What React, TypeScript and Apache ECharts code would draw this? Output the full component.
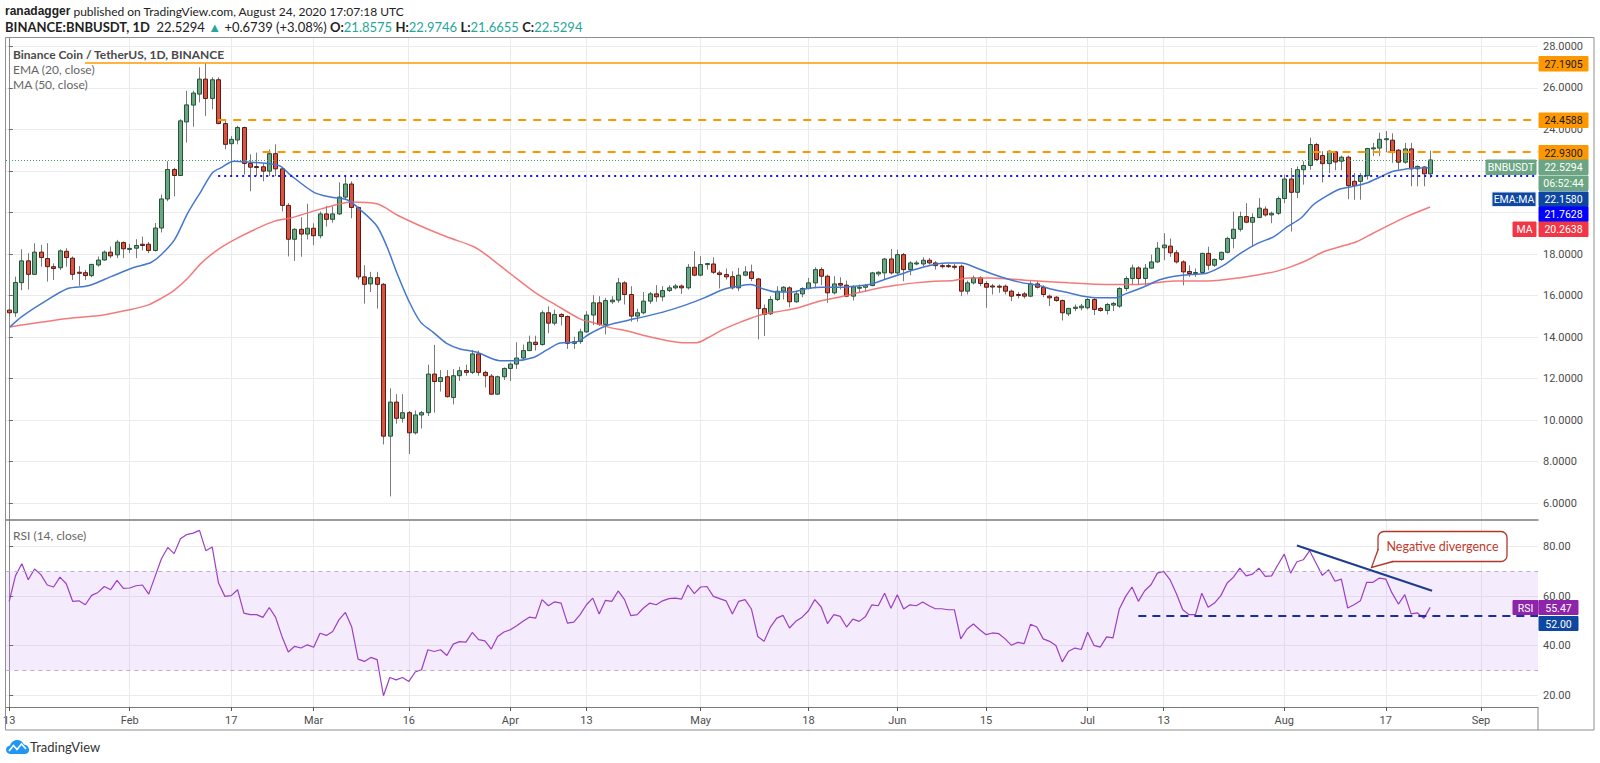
import React, { useEffect, useRef } from 'react';
import * as echarts from 'echarts';

// ---- data ----
// daily candles from 2020-01-13 (index 0) to 2020-08-24 (index 224): [open, high, low, close]
const candleOHLC: number[][] = [
  [15.30, 15.38, 14.97, 15.17], [15.17, 16.91, 14.97, 16.63], [16.62, 18.23, 16.26, 17.67], [17.67, 18.04, 16.29, 17.02],
  [17.02, 18.52, 17.00, 18.09], [18.09, 18.44, 17.39, 17.83], [17.78, 18.52, 16.67, 17.39], [17.39, 17.55, 16.75, 17.30],
  [17.34, 18.23, 17.23, 18.15], [18.13, 18.28, 17.39, 17.83], [17.80, 17.88, 16.75, 17.02], [17.12, 17.42, 16.47, 17.09],
  [17.10, 17.23, 16.75, 16.96], [16.96, 17.52, 16.88, 17.50], [17.47, 17.88, 17.39, 17.71], [17.71, 18.17, 17.68, 18.09],
  [18.09, 18.36, 17.80, 17.91], [17.96, 18.68, 17.80, 18.57], [18.55, 18.60, 17.80, 18.25], [18.25, 18.49, 18.04, 18.27],
  [18.28, 18.71, 17.80, 18.41], [18.47, 18.84, 18.17, 18.41], [18.47, 18.58, 18.04, 18.17], [18.17, 19.49, 18.12, 19.25],
  [19.25, 20.86, 19.04, 20.65], [20.65, 22.47, 20.54, 22.07], [22.07, 22.15, 20.78, 21.78], [21.78, 24.49, 21.75, 24.41],
  [24.36, 25.86, 23.36, 25.18], [25.17, 25.86, 24.13, 25.75], [25.70, 26.99, 25.30, 26.42], [26.42, 27.19, 24.65, 25.49],
  [25.49, 26.51, 24.97, 26.39], [26.39, 26.51, 24.25, 24.28], [24.28, 24.49, 23.04, 23.28], [23.31, 23.68, 21.75, 23.52],
  [23.49, 24.17, 23.28, 24.09], [24.09, 24.13, 21.83, 22.36], [22.36, 22.80, 21.02, 22.18], [22.21, 22.88, 21.75, 22.17],
  [22.20, 22.36, 21.50, 21.99], [21.99, 23.04, 21.75, 22.83], [22.83, 23.28, 21.75, 22.10], [22.10, 22.15, 20.05, 20.34],
  [20.34, 20.45, 17.88, 18.71], [18.71, 19.24, 17.67, 19.19], [19.19, 19.77, 17.87, 18.96], [18.96, 20.42, 18.70, 19.24],
  [19.24, 19.48, 18.43, 18.88], [18.88, 20.05, 18.75, 19.93], [19.93, 20.32, 19.32, 19.67], [19.67, 20.29, 19.51, 19.93],
  [19.93, 21.45, 19.88, 20.74], [20.74, 21.74, 20.61, 21.37], [21.37, 21.50, 19.72, 20.24], [20.24, 20.29, 16.77, 16.90],
  [16.90, 17.46, 15.61, 16.54], [16.56, 17.14, 16.17, 16.86], [16.86, 17.14, 15.37, 16.54], [16.54, 16.61, 8.83, 9.23],
  [9.23, 11.53, 6.33, 10.87], [10.87, 11.25, 9.83, 10.09], [10.09, 11.25, 9.88, 10.36], [10.36, 10.44, 8.37, 9.39],
  [9.39, 10.47, 9.31, 10.25], [10.25, 10.44, 9.60, 10.36], [10.36, 12.67, 10.20, 12.22], [12.22, 13.62, 10.36, 11.86],
  [11.86, 12.41, 11.38, 12.05], [12.09, 12.41, 11.09, 11.13], [11.09, 12.46, 10.76, 12.14], [12.14, 12.57, 11.89, 12.38],
  [12.39, 12.67, 12.14, 12.30], [12.30, 13.38, 12.22, 13.19], [13.19, 13.35, 12.14, 12.30], [12.30, 12.38, 11.57, 12.14],
  [12.12, 12.22, 11.22, 11.25], [11.25, 12.14, 11.22, 12.09], [12.09, 12.54, 11.93, 12.49], [12.49, 12.78, 11.89, 12.70],
  [12.70, 13.75, 12.46, 12.99], [12.99, 13.64, 12.94, 13.35], [13.35, 14.07, 13.32, 13.75], [13.75, 14.07, 13.35, 13.64],
  [13.64, 15.28, 13.59, 15.17], [15.17, 15.48, 14.19, 14.67], [14.67, 15.32, 14.56, 15.09], [15.09, 15.15, 14.56, 14.99],
  [14.99, 15.04, 13.43, 13.70], [13.70, 14.02, 13.43, 13.78], [13.78, 14.40, 13.67, 14.25], [14.25, 15.25, 14.20, 15.06],
  [15.06, 16.02, 14.58, 15.65], [15.65, 15.97, 14.53, 14.61], [14.61, 15.89, 14.13, 15.76], [15.70, 15.97, 15.60, 15.78],
  [15.78, 16.85, 15.65, 16.61], [16.61, 16.69, 15.57, 16.05], [16.05, 16.45, 14.74, 15.01], [15.01, 15.36, 14.74, 15.17],
  [15.17, 16.17, 15.09, 15.73], [15.73, 16.17, 15.60, 16.08], [16.08, 16.50, 15.70, 15.94], [15.94, 16.45, 15.73, 16.24],
  [16.24, 16.50, 16.17, 16.37], [16.37, 16.56, 16.29, 16.46], [16.46, 16.53, 16.08, 16.37], [16.37, 17.52, 16.29, 17.36],
  [17.36, 18.13, 16.93, 16.98], [16.98, 17.89, 16.93, 17.49], [17.49, 17.57, 17.25, 17.54], [17.52, 17.84, 17.04, 17.12],
  [17.09, 17.20, 16.34, 17.01], [17.01, 17.30, 16.77, 16.90], [16.91, 17.17, 16.29, 16.37], [16.37, 17.33, 16.21, 16.98],
  [16.98, 17.41, 16.93, 17.14], [17.14, 17.49, 16.69, 16.82], [16.80, 16.85, 13.89, 15.37], [15.37, 15.57, 14.05, 15.09],
  [15.12, 15.97, 15.06, 15.81], [15.81, 16.45, 15.73, 16.21], [16.21, 16.45, 15.81, 16.40], [16.37, 16.45, 15.44, 15.70],
  [15.70, 16.24, 15.65, 16.08], [16.08, 16.40, 15.92, 16.34], [16.34, 16.85, 16.29, 16.61], [16.61, 17.36, 16.34, 17.25],
  [17.25, 17.36, 16.50, 16.93], [16.93, 17.01, 15.65, 16.13], [16.13, 16.93, 16.05, 16.56], [16.58, 16.88, 16.29, 16.50],
  [16.50, 16.72, 15.92, 15.97], [15.97, 16.50, 15.76, 16.42], [16.37, 16.53, 16.13, 16.40], [16.40, 16.56, 16.17, 16.48],
  [16.48, 17.14, 16.45, 17.09], [17.04, 17.17, 16.93, 17.12], [17.09, 17.81, 16.77, 17.76], [17.76, 18.24, 17.01, 17.09],
  [17.09, 18.21, 17.01, 17.97], [17.97, 18.05, 16.69, 17.25], [17.25, 17.65, 16.98, 17.57], [17.52, 17.68, 17.46, 17.57],
  [17.52, 17.84, 17.41, 17.70], [17.70, 17.81, 17.49, 17.57], [17.57, 17.65, 17.25, 17.44], [17.44, 17.52, 17.30, 17.41],
  [17.44, 17.52, 17.33, 17.39], [17.41, 17.52, 17.25, 17.36], [17.41, 17.49, 15.97, 16.21], [16.21, 16.72, 16.05, 16.61],
  [16.61, 16.96, 16.53, 16.85], [16.85, 16.93, 16.45, 16.58], [16.58, 16.69, 15.41, 16.40], [16.46, 16.56, 16.05, 16.43],
  [16.45, 16.53, 16.13, 16.41], [16.45, 16.53, 16.05, 16.21], [16.21, 16.29, 15.73, 15.97], [16.05, 16.17, 15.86, 16.00],
  [16.08, 16.17, 15.86, 15.97], [15.97, 16.69, 15.92, 16.56], [16.56, 16.69, 16.34, 16.40], [16.40, 16.50, 15.92, 16.05],
  [15.97, 16.05, 15.49, 15.89], [15.92, 15.97, 15.70, 15.76], [15.76, 15.81, 14.80, 15.17], [15.12, 15.41, 15.01, 15.38],
  [15.38, 15.57, 15.25, 15.44], [15.41, 15.60, 15.28, 15.49], [15.41, 15.89, 15.33, 15.81], [15.81, 15.89, 15.06, 15.33],
  [15.38, 15.44, 15.22, 15.28], [15.28, 15.65, 15.09, 15.57], [15.54, 15.70, 15.25, 15.62], [15.49, 16.40, 15.41, 16.34],
  [16.34, 16.93, 16.21, 16.82], [16.82, 17.49, 16.53, 17.33], [17.33, 17.41, 16.50, 16.82], [16.82, 17.52, 16.50, 17.32],
  [17.32, 17.97, 17.30, 17.62], [17.62, 18.58, 17.57, 18.28], [18.30, 19.00, 17.70, 18.43], [18.38, 18.75, 17.86, 18.06],
  [18.06, 18.19, 17.54, 17.62], [17.62, 17.70, 16.49, 17.14], [17.16, 17.46, 16.90, 17.06], [17.10, 17.30, 16.90, 17.11],
  [17.11, 18.06, 17.06, 18.03], [18.03, 18.35, 17.22, 17.46], [17.46, 17.79, 17.38, 17.74], [17.74, 18.11, 17.67, 18.08],
  [18.08, 18.83, 18.03, 18.75], [18.75, 20.04, 18.27, 19.19], [19.19, 20.04, 19.08, 19.80], [19.80, 20.45, 19.48, 19.53],
  [19.53, 19.96, 18.35, 19.76], [19.76, 20.69, 19.72, 20.21], [20.16, 20.29, 19.80, 19.88], [19.88, 20.04, 19.48, 19.96],
  [19.96, 20.77, 19.88, 20.67], [20.67, 21.82, 20.45, 21.61], [21.61, 22.14, 19.08, 20.97], [20.97, 22.22, 20.69, 22.06],
  [22.06, 22.47, 21.34, 22.26], [22.26, 23.60, 22.06, 23.27], [23.27, 23.35, 22.47, 22.55], [22.74, 22.95, 21.45, 22.35],
  [22.35, 23.00, 21.90, 22.95], [22.92, 22.95, 22.03, 22.43], [22.47, 22.74, 22.03, 22.66], [22.66, 22.74, 20.64, 21.29],
  [21.50, 21.90, 20.61, 21.29], [21.50, 21.90, 20.61, 21.77], [21.77, 23.11, 21.58, 23.08], [23.08, 23.35, 22.71, 23.11],
  [23.10, 23.84, 22.71, 23.52], [23.52, 23.92, 22.90, 23.55], [23.48, 23.81, 22.39, 22.95], [23.00, 23.06, 22.06, 22.42],
  [22.42, 23.35, 22.35, 23.06], [23.06, 23.35, 21.26, 22.10], [22.10, 22.26, 21.26, 22.22], [22.19, 22.22, 21.26, 21.86],
  [21.8575, 22.9746, 21.6655, 22.5294],
];

// EMA(20) and MA(50) read at points along the lines: [dayIndex, value]
const emaPoints: number[][] = [
  [0.2, 14.49], [2, 14.97], [5.2, 15.62], [9.3, 16.34], [12.5, 16.47], [16.1, 16.91], [19.8, 17.36], [22.4, 17.59],
  [24, 17.96], [26.1, 18.68], [28.2, 19.97], [30.3, 21.02], [32.1, 21.91], [33.4, 22.15], [35.5, 22.47], [38.1, 22.42],
  [40.8, 22.36], [42.8, 22.23], [44.4, 21.8], [48.1, 20.97], [50.7, 20.74], [53.3, 20.61], [55.4, 20.13], [58, 19.35],
  [59.6, 18.35], [61.2, 17.06], [63, 15.77], [64.9, 14.72], [66.9, 14.23], [69, 13.70], [71.1, 13.43], [73.8, 13.27],
  [75.9, 12.99], [77.4, 12.86], [79.5, 12.86], [82.7, 13.02], [84.8, 13.38], [86.9, 13.72], [89, 13.75], [90, 13.83],
  [91.5, 14.15], [94.5, 14.58], [97.5, 14.8], [100.5, 15.01], [103.6, 15.25], [106.6, 15.54], [109.6, 15.89],
  [112.6, 16.29], [115, 16.45], [116.9, 16.53], [118.7, 16.34], [121, 16.17], [123.5, 16.17], [125.9, 16.34],
  [128.3, 16.4], [130.8, 16.4], [133.2, 16.45], [135.6, 16.53], [138, 16.77], [140.4, 17.01], [142.8, 17.25],
  [145.3, 17.46], [147.7, 17.57], [150.1, 17.57], [152.5, 17.33], [155, 17.04], [157.3, 16.81], [159.8, 16.61],
  [162.2, 16.49], [164.6, 16.29], [167, 16.13], [169.4, 15.97], [171.8, 15.89], [174.3, 15.89], [176, 16.08],
  [179.1, 16.45], [181.5, 16.77], [183.7, 16.93], [186.3, 17.01], [188.9, 17.09], [191.5, 17.46], [194.1, 18.03],
  [196.8, 18.51], [199.4, 18.84], [201.5, 19.32], [203.6, 19.72], [205.6, 20.37], [207.7, 20.8], [209.8, 21.13],
  [211.9, 21.26], [214, 21.42], [216.1, 21.71], [218.2, 21.98], [220.3, 22.1], [221.9, 22.14], [224, 22.158],
];
const maPoints: number[][] = [
  [0.2, 14.49], [9.3, 14.89], [14.6, 15.05], [18.8, 15.30], [21.9, 15.54], [24, 15.86], [26.1, 16.26], [28.2, 16.83],
  [30.3, 17.55], [32.9, 18.2], [35.5, 18.68], [38.7, 19.17], [41.8, 19.57], [44.4, 19.73], [46, 19.88], [49.1, 20.16],
  [52.3, 20.42], [53.9, 20.5], [58, 20.42], [61.2, 19.88], [64.9, 19.35], [69, 18.83], [73.3, 18.35], [75.3, 17.95],
  [79, 17.06], [83.2, 16.09], [86.3, 15.53], [90, 14.88], [92, 14.7], [94.5, 14.48], [97.5, 14.29], [100.5, 14.05],
  [103.6, 13.84], [106.6, 13.73], [108.4, 13.73], [110.2, 13.97], [112.6, 14.37], [115.7, 14.77], [118.7, 15.09],
  [121.7, 15.25], [124.7, 15.44], [127.7, 15.73], [130.8, 15.92], [133.8, 16.13], [136.8, 16.34], [139.8, 16.49],
  [142.8, 16.61], [145.9, 16.69], [148.9, 16.72], [151.3, 16.85], [154.9, 16.85], [161, 16.72], [167, 16.61],
  [173, 16.53], [176.7, 16.53], [179.1, 16.56], [183.7, 16.7], [188.9, 16.7], [194.1, 16.86], [199.4, 17.14],
  [202, 17.38], [204.6, 17.7], [207.2, 18.11], [209.8, 18.35], [212.4, 18.59], [215, 19.0], [217.6, 19.4],
  [220.3, 19.8], [224, 20.26],
];

// RSI(14) per day, index 0 = 2020-01-13
const rsiValues: number[] = [
  57.9, 68.3, 73.1, 66.6, 71.0, 68.7, 64.5, 63.7, 67.7, 65.0,
  57.9, 58.1, 56.5, 60.3, 61.5, 63.9, 62.6, 66.4, 63.1, 63.3,
  64.2, 64.5, 60.8, 68.0, 75.1, 79.7, 77.2, 83.2, 84.9, 85.5,
  86.6, 78.4, 79.9, 65.3, 59.9, 60.2, 62.6, 53.1, 52.5, 52.5,
  51.4, 55.4, 51.4, 43.7, 37.4, 39.7, 39.0, 40.3, 39.3, 45.0,
  44.1, 45.7, 50.5, 53.4, 47.5, 34.5, 33.6, 35.2, 34.3, 19.7,
  27.1, 26.1, 27.1, 25.5, 29.3, 30.2, 38.3, 37.6, 38.3, 36.0,
  40.6, 41.6, 41.4, 45.3, 42.4, 41.9, 38.6, 43.7,
  45.5, 46.4, 48.0, 49.8, 51.5, 51.1, 58.6, 56.1, 57.7, 57.2,
  49.1, 49.5, 52.5, 56.5, 59.2, 52.8, 58.3, 57.9, 62.1, 58.6,
  52.1, 52.5, 55.2, 57.2, 56.5, 58.1, 59.0, 59.2, 58.8, 64.5,
  61.0, 63.7, 63.9, 59.9, 59.0, 58.1, 52.8, 57.9, 58.6, 54.8,
  43.7, 41.7, 47.5, 51.1, 52.2, 47.1, 49.8, 51.5, 54.1, 58.6,
  55.6, 48.9, 52.5, 51.8, 47.5, 50.7, 49.8, 51.8, 56.5, 56.1,
  61.2, 55.1, 60.6, 54.8, 56.5, 56.1, 57.6, 56.1, 54.9, 54.9,
  54.5, 54.5, 42.7, 46.7, 48.7, 46.4, 44.4, 45.1, 44.8, 42.7,
  40.1, 41.3, 40.8, 48.6, 47.5, 42.7, 41.7, 40.0, 33.4, 37.7,
  39.0, 38.4, 45.4, 40.1, 39.4, 43.5, 43.1, 54.8, 59.9, 63.7,
  57.9, 62.2, 64.6, 69.3, 70.0, 66.6, 61.0, 54.5, 52.5, 52.5,
  61.2, 55.5, 57.2, 60.2, 65.3, 67.7, 71.3, 68.2, 68.9, 71.3,
  68.0, 68.2, 72.7, 77.0, 69.3, 73.9, 74.7, 78.4, 73.4, 68.4,
  70.7, 66.0, 66.9, 55.2, 56.5, 58.1, 65.6, 65.6, 67.3, 66.9,
  61.2, 56.8, 60.6, 52.8, 53.2, 51.0, 55.47,
];

// time-axis ticks (day index -> label)
const axisDays = [0, 19, 35, 48, 63, 79, 91, 109, 126, 140, 154, 170, 182, 201, 217, 232];
const axisNames = ['13', 'Feb', '17', 'Mar', '16', 'Apr', '13', 'May', '18', 'Jun', '15', 'Jul', '13', 'Aug', '17', 'Sep'];
const priceTicks = [6, 8, 10, 12, 14, 16, 18, 20, 22, 24, 26, 28];
const rsiTicks = [20, 40, 60, 80];

// drawn levels: [startDay, price]
const levelHigh = [12, 27.1905];
const levelDash1 = [33, 24.4588];
const levelDash2 = [40, 22.93];
const levelSupport = [33, 21.7628];
const lastPrice = 22.5294;
const rsiSupport = [178, 52];
const divergence = [[203, 80.5], [224.3, 62.2]];

const FONT = 'Lato, "Noto Sans", sans-serif';
const AXFONT = 'Roboto, "Noto Sans", sans-serif';

echarts.graphic.registerShape(
  'tvlogo',
  echarts.graphic.extendPath(
    'M4.5 14C2 14 0 12.2 0 9.8C0 7.6 1.7 5.8 3.9 5.6C4.6 2.4 7.3 0 10.6 0C13.6 0 16.1 1.9 17 4.6C19.8 4.9 22 7.2 22 10C22 12.2 20.2 14 18 14Z',
    {}
  )
);

function box(x: number, y: number, w: number, h: number, fill: string, text: string, color: string, stroke?: string) {
  return {
    type: 'group',
    z: 100,
    children: [
      { type: 'rect', z: 100, shape: { x, y, width: w, height: h }, style: { fill, stroke: stroke || fill, lineWidth: 1 } },
      {
        type: 'text',
        z: 101,
        x: x + w / 2,
        y: y + h / 2 + 0.5,
        style: { text, fill: color, font: `10.5px ${AXFONT}`, align: 'center', verticalAlign: 'middle' },
      },
    ],
  };
}

function renderCandle(params: any, api: any) {
  const d = api.value(0);
  const o = api.value(1);
  const h = api.value(2);
  const l = api.value(3);
  const c = api.value(4);
  const pO = api.coord([d, o]);
  const pC = api.coord([d, c]);
  const pH = api.coord([d, h]);
  const pL = api.coord([d, l]);
  const x = Math.round(pO[0]) + 0.5;
  const up = c >= o;
  const top = Math.min(pO[1], pC[1]);
  const bh = Math.max(Math.abs(pO[1] - pC[1]), 1);
  const w = 4;
  return {
    type: 'group',
    children: [
      { type: 'line', shape: { x1: x, y1: pH[1], x2: x, y2: pL[1] }, style: { stroke: '#7a7a7a', lineWidth: 1 } },
      {
        type: 'rect',
        shape: { x: x - w / 2, y: top, width: w, height: bh },
        style: { fill: up ? '#6ba583' : '#d75442', stroke: up ? '#225437' : '#5b1a13', lineWidth: 1 },
      },
    ],
  };
}

export default function App() {
  const ref = useRef<HTMLDivElement>(null);
  useEffect(() => {
    if (!ref.current) return;
    const chart = echarts.init(ref.current, null, { renderer: 'svg' });
    const candleData = candleOHLC.map((c, i) => [i, c[0], c[1], c[2], c[3]]);
    const xMin = -0.44;
    const xMax = 241;
    const gridColor = '#ebebeb';
    const labelColor = '#4d4d4d';

    const xCommon = {
      type: 'value',
      min: xMin,
      max: xMax,
      splitLine: { show: true, lineStyle: { color: gridColor, width: 1 } },
    };

    const option: any = {
      animation: false,
      backgroundColor: '#ffffff',
      textStyle: { fontFamily: AXFONT },
      grid: [
        { left: 6, right: 62, top: 38, height: 482 },
        { left: 6, right: 62, top: 520, height: 187 },
      ],
      xAxis: [
        {
          ...xCommon,
          gridIndex: 0,
          axisLine: { show: true, onZero: false, lineStyle: { color: '#7a7a7a', width: 1.5 } },
          axisTick: { show: false, customValues: axisDays },
          axisLabel: { show: false, customValues: axisDays },
        },
        {
          ...xCommon,
          gridIndex: 1,
          axisLine: { show: true, onZero: false, lineStyle: { color: '#7a7a7a', width: 1 } },
          axisTick: { show: true, customValues: axisDays, length: 4, lineStyle: { color: '#555' } },
          axisLabel: {
            show: true,
            customValues: axisDays,
            color: labelColor,
            fontSize: 11,
            fontFamily: AXFONT,
            margin: 8,
            formatter: (v: number) => {
              const k = axisDays.indexOf(Math.round(v));
              return k >= 0 ? axisNames[k] : '';
            },
          },
        },
      ],
      yAxis: [
        {
          type: 'value',
          gridIndex: 0,
          position: 'right',
          min: 5.193,
          max: 28.4,
          axisLine: { show: true, lineStyle: { color: '#8a8a8a' } },
          axisTick: { show: true, customValues: priceTicks, length: 4, lineStyle: { color: '#666' } },
          axisLabel: {
            customValues: priceTicks,
            color: labelColor,
            fontSize: 11,
            fontFamily: AXFONT,
            margin: 5,
            formatter: (v: number) => v.toFixed(4),
          },
          splitLine: { show: true, lineStyle: { color: gridColor } },
        },
        {
          type: 'value',
          gridIndex: 1,
          position: 'right',
          min: 15.15,
          max: 90.8,
          axisLine: { show: true, lineStyle: { color: '#8a8a8a' } },
          axisTick: { show: true, customValues: rsiTicks, length: 4, lineStyle: { color: '#666' } },
          axisLabel: {
            customValues: rsiTicks,
            color: labelColor,
            fontSize: 11,
            fontFamily: AXFONT,
            margin: 5,
            formatter: (v: number) => v.toFixed(2),
          },
          splitLine: { show: true, lineStyle: { color: gridColor } },
        },
      ],
      series: [
        {
          type: 'custom',
          name: 'BNBUSDT',
          xAxisIndex: 0,
          yAxisIndex: 0,
          renderItem: renderCandle,
          encode: { x: 0, y: [1, 2, 3, 4] },
          data: candleData,
          clip: true,
          z: 2,
        },
        {
          type: 'line',
          name: 'MA',
          xAxisIndex: 0,
          yAxisIndex: 0,
          data: maPoints,
          smooth: 0.3,
          showSymbol: false,
          lineStyle: { color: '#f36b6b', width: 1.5, opacity: 0.9 },
          z: 3,
          markLine: {
            silent: true,
            symbol: ['none', 'none'],
            label: { show: false },
            animation: false,
            data: [
              [
                { coord: [-0.44, lastPrice], lineStyle: { color: '#3f9a64', width: 1, type: [1, 2] } },
                { coord: [xMax, lastPrice] },
              ],
              [
                { coord: levelHigh, lineStyle: { color: '#ff9800', width: 1.5, type: 'solid' } },
                { coord: [xMax, levelHigh[1]] },
              ],
              [
                { coord: levelDash1, lineStyle: { color: '#ff9800', width: 2, type: [8, 7] } },
                { coord: [xMax, levelDash1[1]] },
              ],
              [
                { coord: levelDash2, lineStyle: { color: '#ff9800', width: 2, type: [8, 7] } },
                { coord: [xMax, levelDash2[1]] },
              ],
              [
                { coord: levelSupport, lineStyle: { color: '#1010ff', width: 2, type: [2, 4] } },
                { coord: [xMax, levelSupport[1]] },
              ],
            ],
          },
        },
        {
          type: 'line',
          name: 'EMA',
          xAxisIndex: 0,
          yAxisIndex: 0,
          data: emaPoints,
          smooth: 0.3,
          showSymbol: false,
          lineStyle: { color: '#4677cf', width: 1.5 },
          z: 3,
        },
        {
          type: 'line',
          name: 'RSI',
          xAxisIndex: 1,
          yAxisIndex: 1,
          data: rsiValues.map((v, i) => [i, v]),
          showSymbol: false,
          lineStyle: { color: '#9c3fc4', width: 1.2 },
          z: 3,
          markArea: {
            silent: true,
            itemStyle: { color: 'rgba(180,120,240,0.15)' },
            data: [[{ yAxis: 30 }, { yAxis: 70 }]],
          },
          markLine: {
            silent: true,
            symbol: ['none', 'none'],
            label: { show: false },
            animation: false,
            data: [
              { yAxis: 70, lineStyle: { color: '#bba9c8', width: 1, type: [4, 4] } },
              { yAxis: 30, lineStyle: { color: '#bba9c8', width: 1, type: [4, 4] } },
              [
                { coord: rsiSupport, lineStyle: { color: '#1a2ea0', width: 2, type: [8, 6] } },
                { coord: [xMax, rsiSupport[1]] },
              ],
              [
                { coord: divergence[0], lineStyle: { color: '#1d3c8c', width: 2, type: 'solid' } },
                { coord: divergence[1] },
              ],
            ],
          },
        },
      ],
      graphic: [
        // outer frame
        {
          type: 'rect',
          z: 90,
          shape: { x: 5.5, y: 37.5, width: 1588.5, height: 692.5 },
          style: { fill: 'none', stroke: '#8f8f8f', lineWidth: 1 },
        },
        {
          type: 'line',
          z: 90,
          shape: { x1: 1538, y1: 707, x2: 1538, y2: 730 },
          style: { stroke: '#8a8a8a', lineWidth: 1 },
        },
        // header
        {
          type: 'text',
          z: 100,
          x: 5,
          y: 11,
          style: {
            text: '{b|ranadagger} published on TradingView.com, August 24, 2020 17:07:18 UTC',
            fill: '#222',
            font: `12px ${FONT}`,
            verticalAlign: 'middle',
            rich: { b: { fontWeight: 'bold', fill: '#222', font: `bold 12px ${FONT}` } },
          },
        },
        {
          type: 'text',
          z: 100,
          x: 5,
          y: 27,
          style: {
            text:
              '{b|BINANCE:BNBUSDT, 1D}  22.5294 {g|▲} +0.6739 (+3.08%) {b|O:}{g|21.8575} {b|H:}{g|22.9746} {b|L:}{g|21.6655} {b|C:}{g|22.5294}',
            fill: '#222',
            font: `13px ${FONT}`,
            verticalAlign: 'middle',
            rich: {
              b: { font: `bold 13px ${FONT}`, fill: '#222' },
              g: { font: `13px ${FONT}`, fill: '#26a69a' },
            },
          },
        },
        // legends
        {
          type: 'text',
          z: 100,
          x: 13,
          y: 54,
          style: { text: 'Binance Coin / TetherUS, 1D, BINANCE', fill: '#4a4a4a', font: `bold 12px ${FONT}`, verticalAlign: 'middle' },
        },
        {
          type: 'text',
          z: 100,
          x: 13,
          y: 69,
          style: { text: 'EMA (20, close)', fill: '#666', font: `12px ${FONT}`, verticalAlign: 'middle' },
        },
        {
          type: 'text',
          z: 100,
          x: 13,
          y: 84,
          style: { text: 'MA (50, close)', fill: '#666', font: `12px ${FONT}`, verticalAlign: 'middle' },
        },
        {
          type: 'text',
          z: 100,
          x: 13,
          y: 535,
          style: { text: 'RSI (14, close)', fill: '#666', font: `12px ${FONT}`, verticalAlign: 'middle' },
        },
        // price axis labels
        box(1539, 56.5, 49, 14.5, '#ff9800', '27.1905', '#1a1a1a'),
        box(1539, 113, 49, 14.5, '#ff9800', '24.4588', '#1a1a1a'),
        box(1539, 145.5, 49, 14.5, '#ff9800', '22.9300', '#1a1a1a'),
        box(1486, 160, 50, 14.5, '#6ba583', 'BNBUSDT', '#ffffff'),
        box(1539, 160, 49, 14.5, '#6ba583', '22.5294', '#ffffff'),
        box(1539, 176, 49, 14.5, '#6ba583', '06:52:44', '#ffffff'),
        box(1492, 192, 44, 14.5, '#0d47a1', 'EMA:MA', '#ffffff', '#e0e6f5'),
        box(1539, 192, 49, 14.5, '#0d47a1', '22.1580', '#ffffff'),
        box(1539, 207, 49, 14.5, '#0000ff', '21.7628', '#ffffff'),
        box(1513, 222, 23, 14.5, '#f23645', 'MA', '#ffffff'),
        box(1539, 222, 49, 14.5, '#f23645', '20.2638', '#ffffff'),
        // RSI labels
        box(1513, 600.5, 25, 14, '#8e24aa', 'RSI', '#ffffff'),
        box(1539, 600.5, 39, 14, '#8e24aa', '55.47', '#ffffff'),
        box(1539, 616.5, 39, 14, '#0d47a1', '52.00', '#ffffff'),
        // annotation
        {
          type: 'rect',
          z: 100,
          shape: { x: 1378, y: 531.5, width: 129, height: 30, r: 6 },
          style: { fill: '#ffffff', stroke: '#b2362b', lineWidth: 1.3 },
        },
        {
          type: 'polygon',
          z: 101,
          shape: { points: [[1378.8, 549], [1371.5, 567.5], [1393, 561.2]] },
          style: { fill: '#ffffff' },
        },
        {
          type: 'polyline',
          z: 102,
          shape: { points: [[1378.3, 549], [1371.5, 567.5], [1393, 561.5]] },
          style: { stroke: '#b2362b', lineWidth: 1.3, fill: 'none' },
        },
        {
          type: 'text',
          z: 102,
          x: 1442.5,
          y: 546.5,
          style: { text: 'Negative divergence', fill: '#c0392b', font: `12.5px ${FONT}`, align: 'center', verticalAlign: 'middle' },
        },
        // logo
        {
          type: 'tvlogo',
          z: 100,
          x: 6,
          y: 740,
          scaleX: 1.05,
          scaleY: 1.0,
          style: { fill: '#2196f3' },
        },
        {
          type: 'polyline',
          z: 101,
          shape: { points: [[9, 751], [13.5, 745.5], [17, 749.5], [21.5, 744], [26, 749]] },
          style: { stroke: '#ffffff', lineWidth: 1.6, fill: 'none' },
        },
        {
          type: 'text',
          z: 100,
          x: 30,
          y: 747,
          style: { text: 'TradingView', fill: '#333', font: `13px ${FONT}`, verticalAlign: 'middle' },
        },
      ],
    };
    chart.setOption(option);
    return () => chart.dispose();
  }, []);
  return (
    <div
      ref={ref}
      style={{ position: 'fixed', left: 0, top: 0, width: 1600, height: 763, background: '#fff' }}
    />
  );
}
